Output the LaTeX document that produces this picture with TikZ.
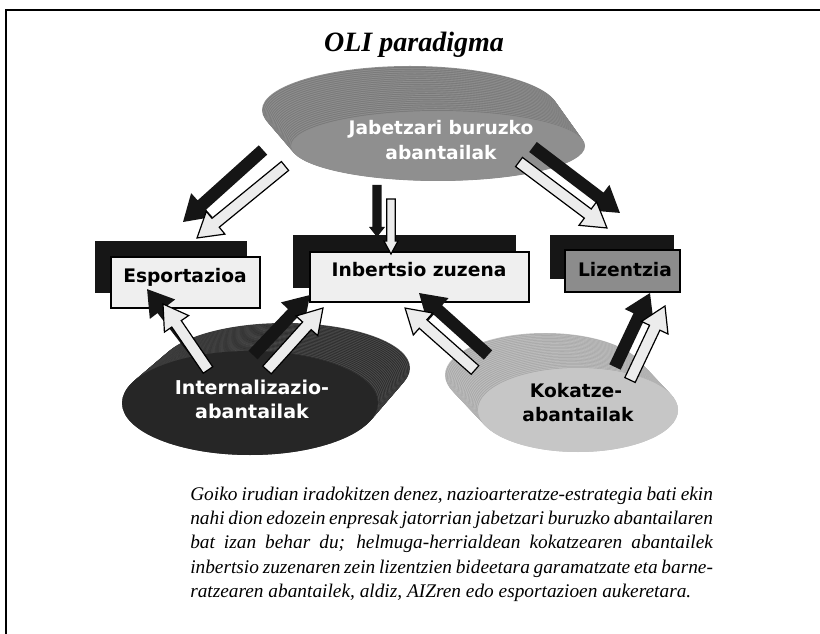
\documentclass[tikz,border=0pt]{standalone}
\usepackage{fontspec}
\setmainfont{Liberation Serif}
\newfontfamily\labfont{DejaVu Sans}
\usetikzlibrary{calc,shapes.geometric}
\definecolor{shadowblk}{HTML}{161616}
\definecolor{boxlight}{HTML}{EFEFEF}
\definecolor{lizgray}{HTML}{8C8C8C}
\definecolor{jabfront}{HTML}{8F8F8F}
\definecolor{jabA}{HTML}{7A7A7A}
\definecolor{jabB}{HTML}{8E8E8E}
\definecolor{intfront}{HTML}{262626}
\definecolor{intA}{HTML}{2C2C2C}
\definecolor{intB}{HTML}{4C4C4C}
\definecolor{kokfront}{HTML}{C6C6C6}
\definecolor{kokA}{HTML}{A9A9A9}
\definecolor{kokB}{HTML}{BEBEBE}
\definecolor{arrblk}{HTML}{151515}
\definecolor{arrwht}{HTML}{ECECEC}
% block arrow: [style]{from}{to}{shaft half}{head half}{head length}
\newcommand\barrow[6][]{%
  \path[#1] let \p1=(#2), \p2=(#3), \n1={atan2(\y2-\y1,\x2-\x1)},
    \n2={veclen(\x2-\x1,\y2-\y1)} in
    [shift={(\p1)}, rotate=\n1]
    (0pt,#4) -- ({(\n2-#6)*1pt},#4) -- ({(\n2-#6)*1pt},#5) -- ({\n2*1pt},0pt)
    -- ({(\n2-#6)*1pt},-#5) -- ({(\n2-#6)*1pt},-#4) -- (0pt,-#4) -- cycle;}
\tikzset{
  blackarrow/.style={fill=arrblk},
  whitearrow/.style={fill=arrwht, draw=black, line width=0.9pt, line join=miter},
  frontbox/.style={draw=black, line width=1.1pt, inner sep=0pt},
  labtxt/.style={font=\labfont\bfseries\fontsize{14}{17}\selectfont, inner sep=0pt, anchor=base},
  captxt/.style={font=\itshape\fontsize{14.5}{16}\selectfont, inner sep=0pt, anchor=base west}
}
\begin{document}
\begin{tikzpicture}[x=0.75pt,y=-0.75pt]
\useasboundingbox (0,0) rectangle (820,634);
\fill[white] (0,0) rectangle (820,634);
\draw[line width=1.3pt] (820,10) -- (6,10) -- (6,634);

\node[font=\bfseries\itshape\fontsize{21}{24}\selectfont, inner sep=0pt, anchor=base] (title) at (414,52) {OLI paradigma};

% ---- Jabetzari disc
\foreach \i in {0,...,48}{
  \pgfmathsetmacro\t{\i/48}
  \ifodd\i \def\cc{jabA}\else\def\cc{jabB}\fi
  \fill[\cc] ($(410,110)!\t!(438,146)$) ellipse [x radius={148-1*\t}, y radius={44-9*\t}];
}
\node[ellipse, fill=jabfront, minimum width=220pt, minimum height=52pt, inner sep=0pt] (jab) at (438,146) {};
\node[labtxt, text=white] (jab1) at (441,135) {Jabetzari buruzko};
\node[labtxt, text=white] (jab2) at (441,160) {abantailak};

% ---- Internalizazio disc
\foreach \i in {0,...,48}{
  \pgfmathsetmacro\t{\i/48}
  \ifodd\i \def\cc{intA}\else\def\cc{intB}\fi
  \fill[\cc] ($(285,368)!\t!(250,403)$) ellipse [x radius={125+3*\t}, y radius={45+7*\t}];
}
\node[ellipse, fill=intfront, minimum width=192pt, minimum height=78pt, inner sep=0pt] (int) at (250,403) {};
\node[labtxt, text=white, font=\labfont\bfseries\fontsize{14.3}{17}\selectfont] (int1) at (252,394) {Internalizazio-};
\node[labtxt, text=white, font=\labfont\bfseries\fontsize{14.3}{17}\selectfont] (int2) at (252,418) {abantailak};

% ---- Kokatze disc
\foreach \i in {0,...,48}{
  \pgfmathsetmacro\t{\i/48}
  \ifodd\i \def\cc{kokA}\else\def\cc{kokB}\fi
  \fill[\cc] ($(545,375)!\t!(578,410)$) ellipse [x radius=100, y radius=42];
}
\node[ellipse, fill=kokfront, minimum width=150pt, minimum height=63pt, inner sep=0pt] (kok) at (578,410) {};
\node[labtxt, text=black] (kok1) at (576,397) {Kokatze-};
\node[labtxt, text=black] (kok2) at (578,421.5) {abantailak};

% ---- boxes
\fill[shadowblk] (95,241) rectangle (247,293);
\node[frontbox, fill=boxlight, minimum width=111.75pt, minimum height=38.25pt] (esp) at (185.5,282.5) {};
\node[labtxt] (espt) at (185,283) {Esportazioa};

\fill[shadowblk] (293,235) rectangle (516,288);
\node[frontbox, fill=boxlight, minimum width=164.25pt, minimum height=37.5pt] (inb) at (419.5,277) {};
\node[labtxt] (inbt) at (419,277) {Inbertsio zuzena};

\fill[shadowblk] (550,235) rectangle (674,279);
\node[frontbox, fill=lizgray, minimum width=86.25pt, minimum height=31.5pt] (liz) at (622.5,271) {};
\node[labtxt] (lizt) at (625,277) {Lizentzia};

% ---- arrow end points
\coordinate (a1s) at (263,150); \coordinate (a1e) at (183,222);
\coordinate (a2s) at (285,166); \coordinate (a2e) at (197,238);
\coordinate (a3s) at (377,185); \coordinate (a3e) at (377,237);
\coordinate (a4s) at (391,199); \coordinate (a4e) at (391,254);
\coordinate (a5s) at (533,147); \coordinate (a5e) at (620,213);
\coordinate (a6s) at (519,162); \coordinate (a6e) at (607,228);
\coordinate (b1s) at (203,362); \coordinate (b1e) at (147,289);
\coordinate (b2s) at (208,370); \coordinate (b2e) at (163,304);
\coordinate (b3s) at (253,355); \coordinate (b3e) at (310,295);
\coordinate (b4s) at (267,370); \coordinate (b4e) at (323,308);
\coordinate (c1s) at (488,355); \coordinate (c1e) at (419,293);
\coordinate (c2s) at (475,370); \coordinate (c2e) at (405,308);
\coordinate (c3s) at (615,367); \coordinate (c3e) at (650,293);
\coordinate (c4s) at (630,380); \coordinate (c4e) at (665,306);

% ---- arrows
\barrow[blackarrow]{a1s}{a1e}{4.7pt}{12pt}{19pt}
\barrow[whitearrow]{a2s}{a2e}{4.3pt}{11pt}{18pt}
\barrow[blackarrow]{a3s}{a3e}{3.4pt}{6pt}{7.5pt}
\barrow[whitearrow]{a4s}{a4e}{3.2pt}{5.3pt}{9.8pt}
\barrow[blackarrow]{a5s}{a5e}{4.7pt}{12pt}{19pt}
\barrow[whitearrow]{a6s}{a6e}{4.3pt}{11pt}{18pt}
\barrow[blackarrow]{b1s}{b1e}{4.7pt}{12pt}{19pt}
\barrow[whitearrow]{b2s}{b2e}{4.3pt}{11pt}{18pt}
\barrow[blackarrow]{b3s}{b3e}{4.7pt}{12pt}{19pt}
\barrow[whitearrow]{b4s}{b4e}{4.3pt}{11pt}{18pt}
\barrow[blackarrow]{c1s}{c1e}{4.7pt}{12pt}{19pt}
\barrow[whitearrow]{c2s}{c2e}{4.3pt}{11pt}{18pt}
\barrow[blackarrow]{c3s}{c3e}{4.7pt}{12pt}{19pt}
\barrow[whitearrow]{c4s}{c4e}{4.3pt}{11pt}{18pt}

% ---- caption
\node[captxt] (cap1) at (190,500) {\makebox[392pt][s]{Goiko irudian iradokitzen denez, nazioarteratze-estrategia bati ekin}};
\node[captxt] (cap2) at (190,524) {\makebox[392pt][s]{nahi dion edozein enpresak jatorrian jabetzari buruzko abantailaren}};
\node[captxt] (cap3) at (190,548.5) {\makebox[392pt][s]{bat izan behar du; helmuga-herrialdean kokatzearen abantailek}};
\node[captxt] (cap4) at (190,573) {\makebox[392pt][s]{inbertsio zuzenaren zein lizentzien bideetara garamatzate eta barne-}};
\node[captxt] (cap5) at (190,597.5) {ratzearen abantailek, aldiz, AIZren edo esportazioen aukeretara.};
\end{tikzpicture}
\end{document}
